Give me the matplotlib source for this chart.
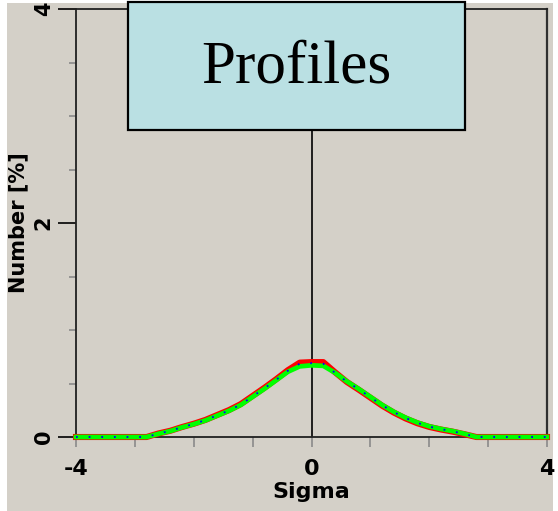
import matplotlib
matplotlib.use("Agg")
import matplotlib.pyplot as plt
from matplotlib import font_manager
from matplotlib.patches import Rectangle
from matplotlib.ticker import FixedLocator

plt.rcParams["axes.unicode_minus"] = False

# sigma grid and the three profiles (percent of entries)
sigma = [-4.0, -3.0, -2.8, -2.6, -2.4, -2.2, -2.0, -1.8, -1.6, -1.4, -1.2, -1.0,
         -0.8, -0.6, -0.4, -0.2, 0.0, 0.2, 0.4, 0.6, 0.8, 1.0, 1.2, 1.4, 1.6,
         1.8, 2.0, 2.2, 2.4, 2.6, 2.8, 3.0, 4.0]

profil_czerwony = [0.0, 0.0, 0.0, 0.033, 0.058, 0.093, 0.124, 0.16, 0.206, 0.252, 0.308, 0.384,
                   0.46, 0.54, 0.625, 0.695, 0.70, 0.70, 0.605, 0.515, 0.443, 0.368, 0.293, 0.228, 0.173,
                   0.128, 0.094, 0.07, 0.05, 0.026, 0.0, 0.0, 0.0]

profil_niebieski = [0.0, 0.0, 0.0, 0.032, 0.057, 0.092, 0.122, 0.158, 0.203, 0.248, 0.304, 0.38,
                    0.455, 0.535, 0.62, 0.685, 0.69, 0.685, 0.60, 0.518, 0.447, 0.372, 0.297, 0.232, 0.177,
                    0.132, 0.097, 0.073, 0.053, 0.028, 0.0, 0.0, 0.0]

profil_zielony = [0.0, 0.0, 0.0, 0.03, 0.055, 0.09, 0.12, 0.155, 0.20, 0.245, 0.30, 0.375,
                  0.45, 0.53, 0.61, 0.66, 0.67, 0.665, 0.60, 0.52, 0.45, 0.375, 0.30, 0.235, 0.18,
                  0.135, 0.10, 0.075, 0.055, 0.03, 0.0, 0.0, 0.0]

tlo = "#d4d0c8"

# narrow bold face for axis text, if available
nazwy = {f.name for f in font_manager.fontManager.ttflist}
czcionka = "Liberation Sans Narrow" if "Liberation Sans Narrow" in nazwy else "DejaVu Sans"

fig = plt.figure(figsize=(5.58, 5.11), dpi=100, facecolor="white")
fig.patches.append(Rectangle((7 / 558, 0), 546 / 558, 508 / 511,
                             transform=fig.transFigure, facecolor=tlo,
                             edgecolor="none", zorder=-10))

ax = fig.add_axes([76 / 558, 74 / 511, 471 / 558, 428 / 511])
ax.set_facecolor(tlo)

ax.plot(sigma, profil_czerwony, color="#ff0000", lw=4.4, zorder=3, clip_on=False)
ax.plot(sigma, profil_zielony, color="#00ff00", lw=3.4, zorder=4, clip_on=False)
ax.plot(sigma, profil_niebieski, color="#0000ff", lw=1.3, ls=(0, (1, 6)), zorder=5, clip_on=False)

ax.axvline(0, color="black", lw=1.2, zorder=2)

ax.set_xlim(-4, 4)
ax.set_ylim(0, 4)

for s in ["left", "bottom", "top"]:
    ax.spines[s].set_color("#202020")
    ax.spines[s].set_linewidth(1.3)
ax.spines["right"].set_color("#303030")
ax.spines["right"].set_linewidth(1.6)

ax.xaxis.set_major_locator(FixedLocator([-4, 0, 4]))
ax.xaxis.set_minor_locator(FixedLocator([-3, -2, -1, 1, 2, 3]))
ax.yaxis.set_major_locator(FixedLocator([0, 2, 4]))
ax.yaxis.set_minor_locator(FixedLocator([0.5, 1, 1.5, 2.5, 3, 3.5]))

ax.tick_params(axis="x", which="both", direction="out", length=7, width=1.2,
               color="#8a8a8a", pad=9)
ax.tick_params(axis="y", which="major", direction="out", length=13, width=1.2,
               color="black", pad=3, labelrotation=90)
ax.tick_params(axis="y", which="minor", direction="out", length=5, width=1.2,
               color="#8a8a8a")
ax.set_xticklabels(["-4", "0", "4"], fontsize=16, fontweight="bold", family=czcionka)
ax.set_yticklabels(["0", "2", "4"], fontsize=15, fontweight="bold", va="center",
                   family=czcionka)

ax.set_xlabel("Sigma", fontsize=16, fontweight="bold", labelpad=2, family=czcionka)
ax.set_ylabel("Number [%]", fontsize=15, fontweight="bold", labelpad=4, family=czcionka)

# title box
fig.patches.append(Rectangle((128 / 558, 381 / 511), 337 / 558, 128 / 511,
                             transform=fig.transFigure, facecolor="#bae0e3",
                             edgecolor="black", lw=1.6, zorder=10))
fig.text(296 / 558, 443 / 511, "Profiles", fontsize=44, family="Liberation Serif",
         ha="center", va="center", zorder=11)

fig.savefig("out.png", dpi=100, facecolor="white")
